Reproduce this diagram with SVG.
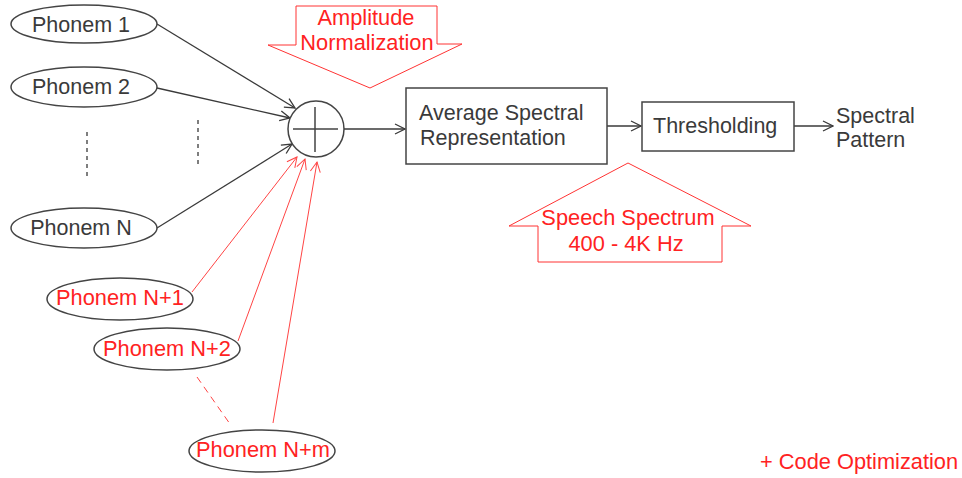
<svg xmlns="http://www.w3.org/2000/svg" width="962" height="478" viewBox="0 0 962 478">
<style>
.node{fill:#fff;stroke:#444;stroke-width:1.5}
.t{font-family:"Liberation Sans",Arial,sans-serif;font-size:21.5px;fill:#3a3a3a}
.r{font-family:"Liberation Sans",Arial,sans-serif;font-size:21.8px;fill:#f22}
.c{fill:none;stroke:#3a3a3a;stroke-width:1.3}
.rc{fill:none;stroke:#f44;stroke-width:1}
.big{fill:#fff;stroke:#f33;stroke-width:1}
</style>
<defs>
<marker id="ah" viewBox="0 0 12 12" refX="11" refY="6" markerWidth="12" markerHeight="12" markerUnits="userSpaceOnUse" orient="auto">
<path d="M1,1 L11,6 L1,11" fill="none" stroke="#3a3a3a" stroke-width="1.3"/>
</marker>
<marker id="rh" viewBox="0 0 12 12" refX="11" refY="6" markerWidth="12" markerHeight="12" markerUnits="userSpaceOnUse" orient="auto">
<path d="M1,1 L11,6 L1,11" fill="none" stroke="#f44" stroke-width="1"/>
</marker>
</defs>
<g id="connectors">
<line class="c" x1="157" y1="24" x2="295" y2="108" marker-end="url(#ah)"/>
<line class="c" x1="157" y1="88" x2="290" y2="118" marker-end="url(#ah)"/>
<line class="c" x1="157" y1="228" x2="292" y2="144" marker-end="url(#ah)"/>
<line class="c" x1="344" y1="129" x2="405" y2="129" marker-end="url(#ah)"/>
<line class="c" x1="607" y1="126" x2="641" y2="126" marker-end="url(#ah)"/>
<line class="c" x1="794" y1="126" x2="833" y2="126" marker-end="url(#ah)"/>
<line class="rc" x1="192" y1="292" x2="297" y2="157" marker-end="url(#rh)"/>
<line class="rc" x1="238" y1="341" x2="305" y2="159" marker-end="url(#rh)"/>
<line class="rc" x1="273" y1="423" x2="317" y2="162" marker-end="url(#rh)"/>
<line class="rc" x1="197" y1="377" x2="230" y2="424" stroke-dasharray="7,5"/>
<line class="c" x1="87" y1="132" x2="87" y2="180" stroke-dasharray="4,4" stroke-width="1"/>
<line class="c" x1="198" y1="120" x2="198" y2="166" stroke-dasharray="4,4" stroke-width="1"/>
</g>
<g id="phonem1"><ellipse class="node" cx="84" cy="24" rx="73" ry="19"/><text class="t" x="81" y="32" text-anchor="middle">Phonem 1</text></g>
<g id="phonem2"><ellipse class="node" cx="84" cy="87" rx="73" ry="20"/><text class="t" x="81" y="94" text-anchor="middle">Phonem 2</text></g>
<g id="phonemN"><ellipse class="node" cx="84" cy="228" rx="73" ry="20"/><text class="t" x="81" y="235" text-anchor="middle">Phonem N</text></g>
<g id="phonemN1"><ellipse class="node" cx="120" cy="299" rx="73" ry="21"/><text class="r" x="120" y="305" text-anchor="middle">Phonem N+1</text></g>
<g id="phonemN2"><ellipse class="node" cx="167" cy="349" rx="73" ry="21"/><text class="r" x="167" y="356" text-anchor="middle">Phonem N+2</text></g>
<g id="phonemNm"><ellipse class="node" cx="262" cy="451" rx="73" ry="21"/><text class="r" x="263" y="457" text-anchor="middle">Phonem N+m</text></g>
<g id="summer"><circle class="node" cx="316" cy="129" r="28"/><path d="M293,129 H338 M315,107 V152" stroke="#444" stroke-width="1.5" fill="none"/></g>
<g id="amp"><polygon class="big" points="296,6 437,6 437,44 462,44 370,88 268,45 296,45"/><text class="r" x="366" y="25" text-anchor="middle">Amplitude</text><text class="r" x="367" y="50" text-anchor="middle">Normalization</text></g>
<g id="avg"><rect class="node" x="406" y="88" width="201" height="76"/><text class="t" x="419" y="120">Average Spectral</text><text class="t" x="420" y="145">Representation</text></g>
<g id="thresh"><rect class="node" x="642" y="102" width="152" height="49"/><text class="t" x="653" y="133">Thresholding</text></g>
<g id="out"><text class="t" x="836" y="123">Spectral</text><text class="t" x="836" y="147">Pattern</text></g>
<g id="speech"><polygon class="big" points="628,163 751,226 722,226 722,262 538,262 538,226 509,226"/><text class="r" x="628" y="225" text-anchor="middle">Speech Spectrum</text><text class="r" x="626" y="251" text-anchor="middle">400 - 4K Hz</text></g>
<g id="note"><text class="r" x="760" y="469">+ Code Optimization</text></g>
</svg>
